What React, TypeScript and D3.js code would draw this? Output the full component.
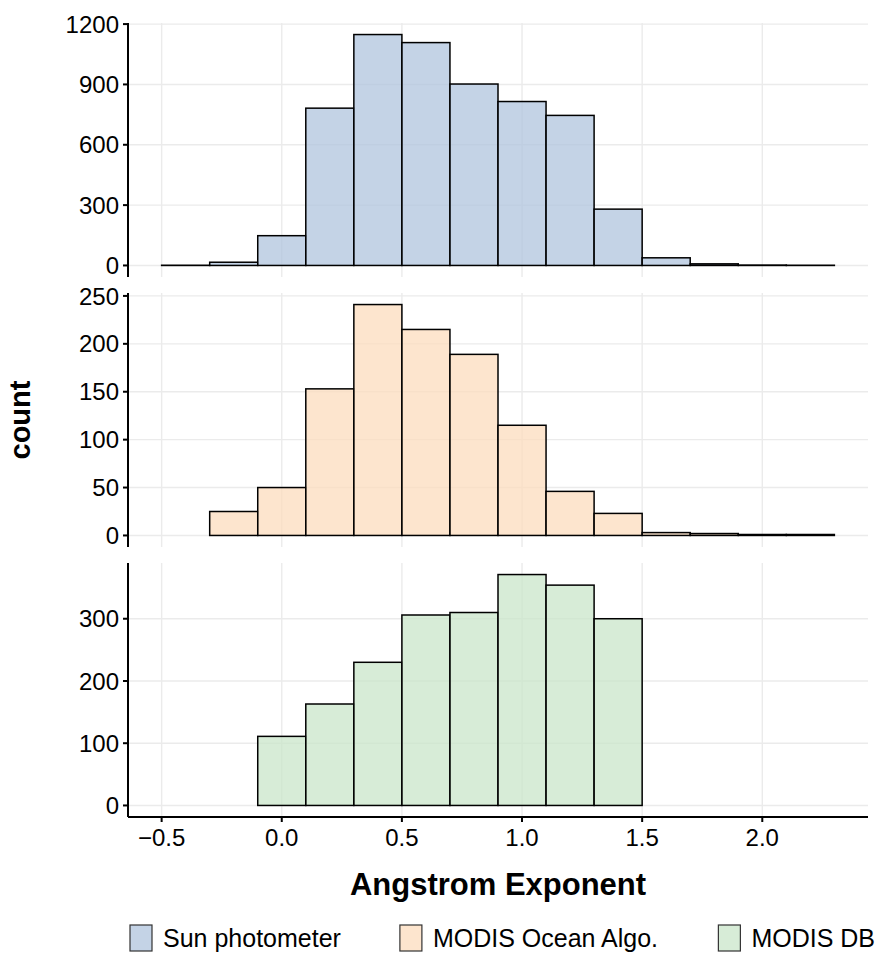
import * as d3 from "d3";

// bin edges of the histogram (binwidth 0.2)
const binEdges = [-0.5, -0.3, -0.1, 0.1, 0.3, 0.5, 0.7, 0.9, 1.1, 1.3, 1.5, 1.7, 1.9, 2.1, 2.3];

// counts per bin, one array per source
const sunCounts = [1, 16, 148, 782, 1148, 1108, 902, 815, 746, 280, 38, 8, 2, 1];
const oceanCounts = [0, 25, 50, 153, 241, 215, 189, 115, 46, 23, 3, 2, 1, 1];
const dbCounts = [0, 0, 111, 163, 230, 306, 310, 371, 354, 300, 0, 0, 0, 0];

const seriesNames = ["Sun photometer", "MODIS Ocean Algo.", "MODIS DB"];
const seriesColors = ["#B0C4DE", "#FCDCBE", "#CAE6CA"];

const xTicks = [-0.5, 0, 0.5, 1, 1.5, 2];
const xTickLabels = ["\u22120.5", "0.0", "0.5", "1.0", "1.5", "2.0"];
const yTicks = [
  [0, 300, 600, 900, 1200],
  [0, 50, 100, 150, 200, 250],
  [0, 100, 200, 300],
];

const W = 880;
const H = 959;
const left = 128;
const right = 868;
const panelTops = [23, 293, 563];
const panelH = 254;
const font = "'Liberation Sans', Arial, sans-serif";
const tickSize = 24;
const titleSize = 31;
const legendSize = 25;

// rough text width from the browser's canvas
function textWidth(s: string, size: number) {
  const ctx = document.createElement("canvas").getContext("2d");
  if (!ctx) return s.length * size * 0.55;
  ctx.font = `${size}px 'Liberation Sans'`;
  return ctx.measureText(s).width;
}

export default function App() {
  const x = d3.scaleLinear().domain([-0.64, 2.44]).range([left, right]);
  const allCounts = [sunCounts, oceanCounts, dbCounts];

  const panels = allCounts.map((counts, p) => {
    const top = panelTops[p];
    const bottom = top + panelH;
    const mx = d3.max(counts) as number;
    const y = d3
      .scaleLinear()
      .domain([-0.05 * mx, 1.05 * mx])
      .range([bottom, top]);
    return (
      <g key={p}>
        {/* grid */}
        {xTicks.map((t) => (
          <line key={"gx" + t} x1={x(t)} x2={x(t)} y1={top} y2={bottom} stroke="#EBEBEB" strokeWidth={1.4} />
        ))}
        {yTicks[p].map((t) => (
          <line key={"gy" + t} x1={left} x2={right} y1={y(t)} y2={y(t)} stroke="#EBEBEB" strokeWidth={1.4} />
        ))}
        {/* bars */}
        {counts.map((c, i) => (
          <rect
            key={i}
            x={x(binEdges[i])}
            width={x(binEdges[i + 1]) - x(binEdges[i])}
            y={y(c)}
            height={y(0) - y(c)}
            fill={seriesColors[p]}
            fillOpacity={0.75}
            stroke="#000"
            strokeWidth={1.5}
          />
        ))}
        {/* y axis */}
        <line x1={left} x2={left} y1={top} y2={bottom} stroke="#000" strokeWidth={2} />
        {yTicks[p].map((t) => (
          <g key={"ty" + t}>
            <line x1={left - 5} x2={left} y1={y(t)} y2={y(t)} stroke="#000" strokeWidth={2} />
            <text x={left - 9} y={y(t)} dy="0.36em" textAnchor="end" fontSize={tickSize} fill="#000" fontFamily={font}>
              {t}
            </text>
          </g>
        ))}
      </g>
    );
  });

  const axisY = panelTops[2] + panelH;

  // legend layout: first key under the y axis, last label ending near the right edge
  const legendY = 938;
  const keyW = 22;
  const widths = seriesNames.map((n) => textWidth(n, legendSize));
  const itemW = widths.map((w) => keyW + 11 + w);
  const legendStart = 130;
  const legendEnd = 875;
  const gap = (legendEnd - legendStart - d3.sum(itemW)) / (itemW.length - 1);
  let cursor = legendStart;
  const keyXs = itemW.map((w) => {
    const k = cursor;
    cursor += w + gap;
    return k;
  });

  return (
    <svg width={W} height={H} style={{ position: "absolute", left: 0, top: 0, background: "#fff" }}>
      <rect width={W} height={H} fill="#fff" />
      {panels}
      {/* x axis */}
      <line x1={left} x2={right} y1={axisY} y2={axisY} stroke="#000" strokeWidth={2} />
      {xTicks.map((t, i) => (
        <g key={"tx" + t}>
          <line x1={x(t)} x2={x(t)} y1={axisY} y2={axisY + 5} stroke="#000" strokeWidth={2} />
          <text x={x(t)} y={axisY + 20} dy="0.36em" textAnchor="middle" fontSize={tickSize} fill="#000" fontFamily={font}>
            {xTickLabels[i]}
          </text>
        </g>
      ))}
      <text x={(left + right) / 2} y={884} dy="0.36em" textAnchor="middle" fontSize={titleSize} fontWeight="bold" fontFamily={font}>
        Angstrom Exponent
      </text>
      <text
        transform={`translate(20,${(panelTops[0] + axisY) / 2}) rotate(-90)`}
        dy="0.36em"
        textAnchor="middle"
        fontSize={titleSize - 2}
        fontWeight="bold"
        fontFamily={font}
      >
        count
      </text>
      {/* legend */}
      {seriesNames.map((n, i) => (
        <g key={n}>
          <rect
            x={keyXs[i]}
            y={legendY - 13}
            width={keyW}
            height={26}
            fill={seriesColors[i]}
            fillOpacity={0.75}
            stroke="#333"
            strokeWidth={1.2}
          />
          <text x={keyXs[i] + keyW + 11} y={legendY} dy="0.36em" fontSize={legendSize} fontFamily={font}>
            {n}
          </text>
        </g>
      ))}
    </svg>
  );
}
